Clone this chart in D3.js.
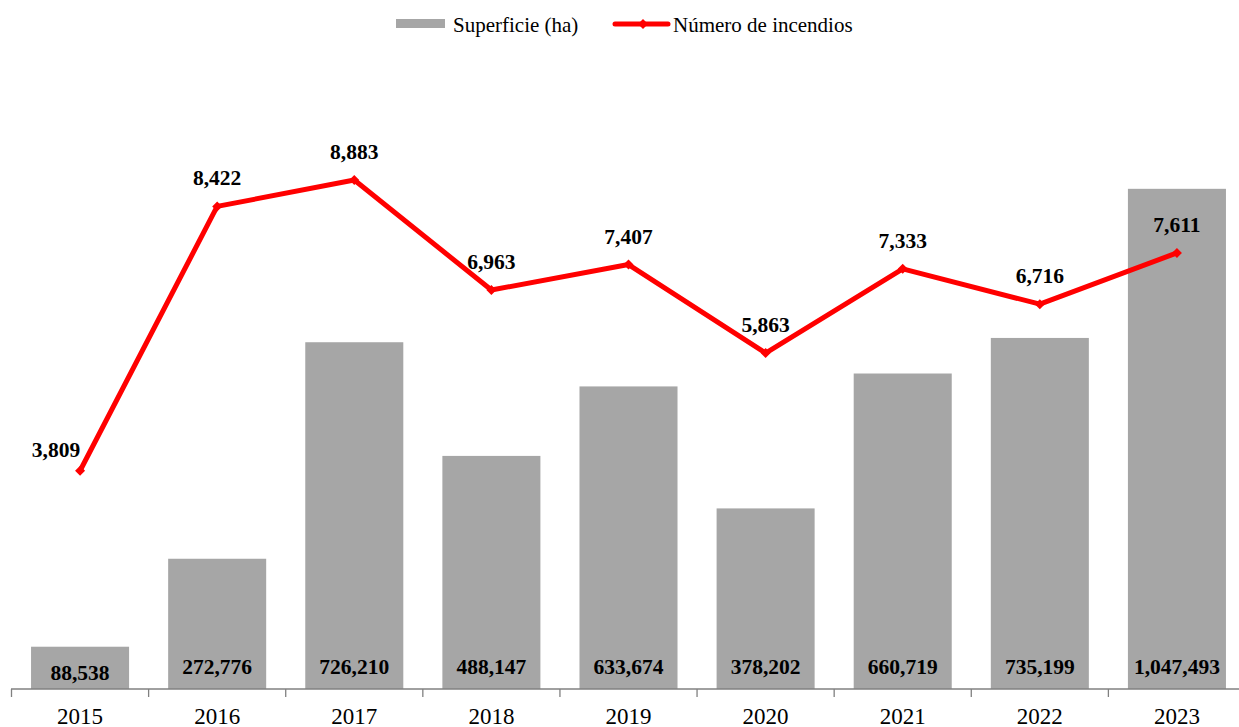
<!DOCTYPE html>
<html><head><meta charset="utf-8">
<script src="https://cdn.jsdelivr.net/npm/d3@7"></script>
<style>body{margin:0;background:#fff}svg{display:block}text{font-family:"Liberation Serif","Times New Roman",serif}</style>
</head><body>
<svg id="c" width="1239" height="727"></svg>
<script>
const years = ["2015","2016","2017","2018","2019","2020","2021","2022","2023"];
const superficie = [88538, 272776, 726210, 488147, 633674, 378202, 660719, 735199, 1047493];
const incendios = [3809, 8422, 8883, 6963, 7407, 5863, 7333, 6716, 7611];
const legendLabels = ["Superficie (ha)", "Número de incendios"];

const svg = d3.select("#c");
const x = d3.scaleBand().domain(years).range([11.5, 1245.5]).paddingInner(0.285).paddingOuter(0.1425);
const yBar = d3.scaleLinear().domain([0, 1200000]).range([689, 116]);
const yLine = d3.scaleLinear().domain([0, 10000]).range([689, 116]);
const cx = d => x(d) + x.bandwidth()/2;
const fmt = d3.format(",");

// bars
svg.append("g").selectAll("rect").data(years).join("rect")
  .attr("x", d => x(d)).attr("width", x.bandwidth())
  .attr("y", (d,i) => yBar(superficie[i])).attr("height", (d,i) => yBar(0) - yBar(superficie[i]))
  .attr("fill", "#a6a6a6");

// axis
const axis = d3.axisBottom(x).tickSize(0).tickPadding(0);
const gx = svg.append("g").attr("transform", "translate(0,689)").call(axis);
gx.attr("font-family", null).attr("font-size", null);
gx.select(".domain").remove();
gx.append("line").attr("x1", 11).attr("x2", 1239).attr("stroke", "#808080").attr("stroke-width", 1.3);
const step = x.step();
gx.selectAll(".sep").data(years).join("line").attr("class","sep")
  .attr("x1", d => x(d) - x.paddingOuter()*step).attr("x2", d => x(d) - x.paddingOuter()*step)
  .attr("y1", 0).attr("y2", 8).attr("stroke", "#808080").attr("stroke-width", 1.3);
gx.selectAll(".tick text").style("font-size", "23px").attr("fill", "#000").attr("y", 35).attr("dy", null);

// bar labels
svg.append("g").selectAll("text").data(years).join("text")
  .attr("x", cx).attr("y", (d,i) => i === 0 ? 680 : 674)
  .attr("text-anchor", "middle").style("font-weight", "bold")
  .style("font-size", "21.5px").text((d,i) => fmt(superficie[i]));

// line
const line = d3.line().x((d,i) => cx(years[i])).y(d => yLine(d));
svg.append("path").datum(incendios).attr("d", line).attr("fill", "none")
  .attr("stroke", "#ff0000").attr("stroke-width", 5).attr("stroke-linejoin", "round");
svg.append("g").selectAll("path").data(incendios).join("path")
  .attr("d", d3.symbol().type(d3.symbolSquare).size(50))
  .attr("transform", (d,i) => `translate(${cx(years[i])},${yLine(d)}) rotate(45)`)
  .attr("fill", "#ff0000");

// line labels
svg.append("g").selectAll("text").data(incendios).join("text")
  .attr("x", (d,i) => cx(years[i]) + (i === 0 ? -24 : 0))
  .attr("y", (d,i) => yLine(d) - (i === 0 ? 14 : 21))
  .attr("text-anchor", "middle").style("font-weight", "bold")
  .style("font-size", "21.5px").text(d => fmt(d));

// legend
const lg = svg.append("g");
lg.append("rect").attr("x", 396).attr("y", 19).attr("width", 49).attr("height", 9).attr("fill", "#a6a6a6");
lg.append("text").attr("x", 453).attr("y", 31.5).style("font-size", "21px").text(legendLabels[0]);
lg.append("line").attr("x1", 615).attr("x2", 668).attr("y1", 24).attr("y2", 24).attr("stroke", "#ff0000").attr("stroke-width", 5).attr("stroke-linecap","round");
lg.append("path").attr("d", d3.symbol().type(d3.symbolSquare).size(50)).attr("transform", "translate(643,24) rotate(45)").attr("fill", "#ff0000");
lg.append("text").attr("x", 673).attr("y", 31.5).style("font-size", "21px").text(legendLabels[1]);
</script>
</body></html>
